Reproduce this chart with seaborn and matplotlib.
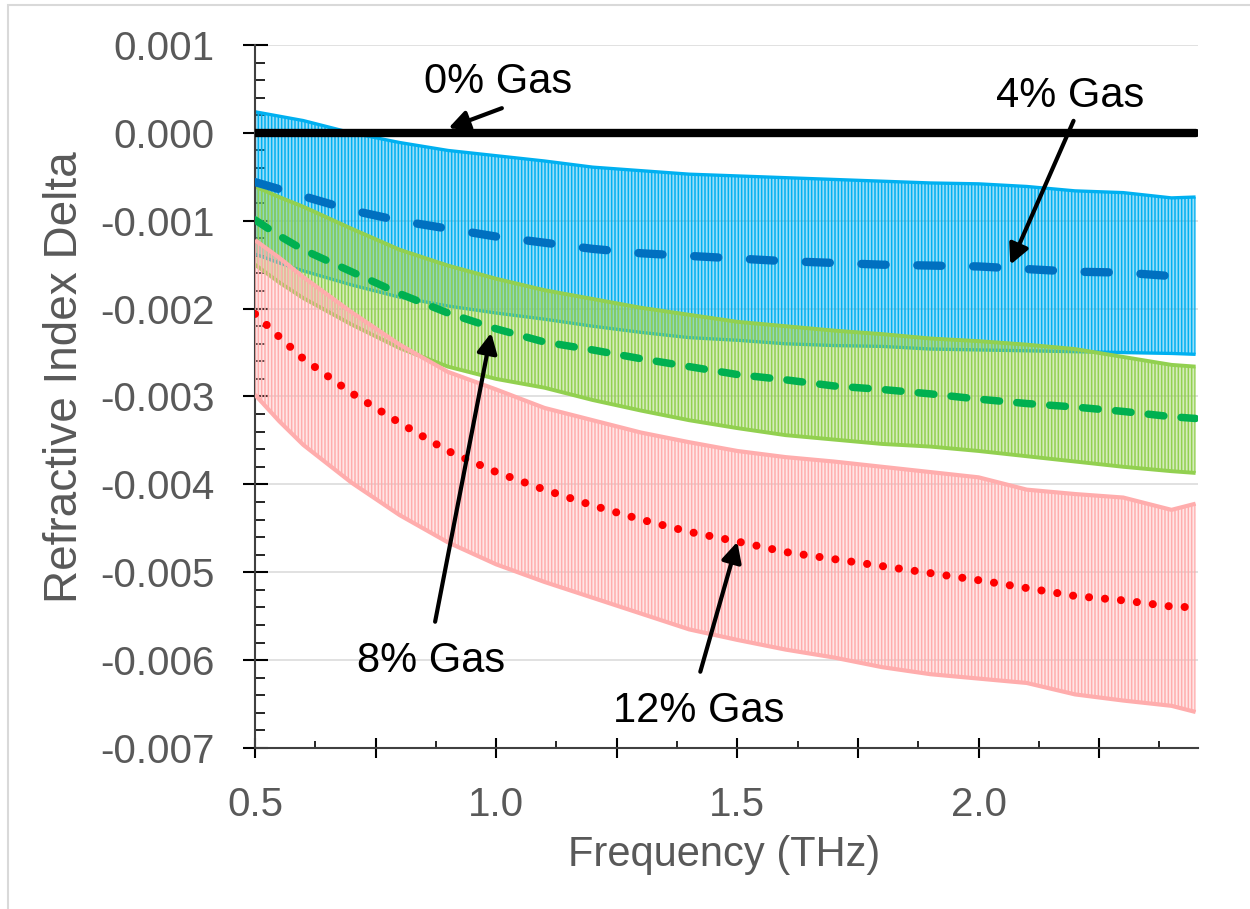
import matplotlib
matplotlib.use("Agg")
import matplotlib.pyplot as plt
import matplotlib.colors as mcolors
from matplotlib.ticker import MultipleLocator, FuncFormatter, FormatStrFormatter
from matplotlib.patches import Rectangle
import seaborn as sns

# ---------------- data ----------------
freq = [0.50, 0.55, 0.60, 0.70, 0.80, 0.90, 1.00, 1.10, 1.20, 1.30, 1.40,
        1.50, 1.60, 1.70, 1.80, 1.90, 2.00, 2.10, 2.20, 2.30, 2.40, 2.45]

gas0_mean = [0.0, 0.0, 0.0, 0.0, 0.0, 0.0, 0.0, 0.0, 0.0, 0.0, 0.0,
             0.0, 0.0, 0.0, 0.0, 0.0, 0.0, 0.0, 0.0, 0.0, 0.0, 0.0]

gas4_mean = [-0.00056, -0.00064, -0.00072, -0.00088, -0.00100, -0.00109, -0.00118,
             -0.00125, -0.00132, -0.00137, -0.00140, -0.00143, -0.00146, -0.00148,
             -0.00150, -0.00151, -0.00152, -0.00155, -0.00158, -0.00159, -0.00163, -0.00164]
gas4_upper = [0.00024, 0.00019, 0.00014, 0.00000, -0.00011, -0.00020, -0.00026,
              -0.00032, -0.00039, -0.00043, -0.00047, -0.00049, -0.00051, -0.00053,
              -0.00055, -0.00057, -0.00058, -0.00061, -0.00066, -0.00068, -0.00074, -0.00073]
gas4_lower = [-0.00138, -0.00148, -0.00157, -0.00173, -0.00187, -0.00197, -0.00205,
              -0.00212, -0.00220, -0.00227, -0.00233, -0.00236, -0.00240, -0.00242,
              -0.00243, -0.00246, -0.00247, -0.00248, -0.00249, -0.00250, -0.00251, -0.00252]

gas8_mean = [-0.00099, -0.00117, -0.00133, -0.00158, -0.00183, -0.00205, -0.00223,
             -0.00238, -0.00247, -0.00257, -0.00266, -0.00275, -0.00281, -0.00288,
             -0.00292, -0.00297, -0.00303, -0.00308, -0.00312, -0.00317, -0.00323, -0.00325]
gas8_upper = [-0.00061, -0.00073, -0.00084, -0.00109, -0.00133, -0.00151, -0.00166,
              -0.00179, -0.00189, -0.00199, -0.00207, -0.00215, -0.00220, -0.00225,
              -0.00229, -0.00234, -0.00237, -0.00241, -0.00246, -0.00255, -0.00264, -0.00266]
gas8_lower = [-0.00150, -0.00170, -0.00188, -0.00218, -0.00245, -0.00266, -0.00280,
              -0.00290, -0.00304, -0.00316, -0.00327, -0.00336, -0.00344, -0.00349,
              -0.00354, -0.00357, -0.00362, -0.00368, -0.00374, -0.00380, -0.00385, -0.00387]

gas12_mean = [-0.00206, -0.00232, -0.00257, -0.00296, -0.00330, -0.00362, -0.00386,
              -0.00406, -0.00424, -0.00440, -0.00454, -0.00465, -0.00477, -0.00485,
              -0.00493, -0.00501, -0.00509, -0.00518, -0.00527, -0.00532, -0.00539, -0.00540]
gas12_upper = [-0.00122, -0.00142, -0.00164, -0.00204, -0.00241, -0.00272, -0.00292,
               -0.00313, -0.00327, -0.00341, -0.00352, -0.00362, -0.00369, -0.00374,
               -0.00380, -0.00386, -0.00392, -0.00406, -0.00411, -0.00415, -0.00429, -0.00422]
gas12_lower = [-0.00298, -0.00328, -0.00355, -0.00398, -0.00435, -0.00466, -0.00491,
               -0.00511, -0.00529, -0.00547, -0.00565, -0.00577, -0.00588, -0.00597,
               -0.00608, -0.00616, -0.00621, -0.00626, -0.00639, -0.00646, -0.00652, -0.00659]

labels = ["0% Gas", "4% Gas", "8% Gas", "12% Gas"]
x_tick_labels = ["0.5", "1.0", "1.5", "2.0"]

# ---------------- style ----------------
plt.rcParams['font.family'] = ['Liberation Sans', 'DejaVu Sans']
plt.rcParams['axes.unicode_minus'] = False
plt.rcParams['hatch.linewidth'] = 1.1

fig = plt.figure(figsize=(12.5, 9.09), dpi=100, facecolor='white')
ax = fig.add_axes([0.204, 0.17712, 0.7544, 0.77338])

def tint(c, a):
    r, g, b, _ = mcolors.to_rgba(c)
    return (r, g, b, a)

def seaborn_line(y, color, lw, style='-', z=5, cap='round'):
    sns.lineplot(x=freq, y=y, color=color, ax=ax)
    ln = ax.get_lines()[-1]
    ln.set_color(color)
    ln.set_linewidth(lw)
    ln.set_linestyle(style)
    ln.set_dash_capstyle(cap)
    ln.set_solid_capstyle(cap)
    ln.set_zorder(z)
    return ln

# drawn in series order: 4% first, then 8%, then 12% on top
bands = [
    (gas4_lower, gas4_upper, '#00B0F0', 2.4, 1, 0.4),
    (gas8_lower, gas8_upper, '#92D050', 2.8, 2, 0.38),
    (gas12_lower, gas12_upper, '#FFADAD', 3.0, 3, 0.3),
]
for lo, hi, col, elw, z, a in bands:
    ax.fill_between(freq, lo, hi, facecolor=tint(col, a), edgecolor=col,
                    hatch='|' * 5, linewidth=0, zorder=z)
    seaborn_line(hi, col, elw, '-', z + 0.5, 'butt')
    seaborn_line(lo, col, elw, '-', z + 0.5, 'butt')

# mean lines
seaborn_line(gas12_mean, '#FF0000', 5.8, (0, (0.01, 1.98)), 6)
seaborn_line(gas8_mean, '#00B050', 5.4, (0, (2.1, 2.3)), 6)
seaborn_line(gas4_mean, '#0070C0', 6.0, (0, (2.9, 3.8)), 6)
seaborn_line(gas0_mean, 'black', 6.0, '-', 7)

# ---------------- axes ----------------
ax.set_xlim(0.5, 2.455)
ax.set_ylim(-0.007, 0.001)
ax.xaxis.set_major_locator(MultipleLocator(0.25))
ax.xaxis.set_minor_locator(MultipleLocator(0.125))
ax.yaxis.set_major_locator(MultipleLocator(0.001))
ax.yaxis.set_minor_locator(MultipleLocator(0.0002))
ax.yaxis.set_major_formatter(FormatStrFormatter('%.3f'))

def xfmt(v, pos):
    s = f"{v:.1f}"
    return s if s in x_tick_labels and abs(v * 2 - round(v * 2)) < 1e-6 else ""
ax.xaxis.set_major_formatter(FuncFormatter(xfmt))

ax.tick_params(axis='both', which='major', direction='inout', width=1.5,
               color='black', labelsize=29, labelcolor='#595959', pad=20)
ax.tick_params(axis='y', which='major', length=18)
ax.tick_params(axis='x', which='major', length=14.4)
ax.tick_params(axis='y', which='minor', direction='in', length=7.2, width=1.2, color='black')
ax.tick_params(axis='x', which='minor', direction='in', length=5, width=1.2, color='black')

for s in ['top', 'right']:
    ax.spines[s].set_visible(False)
for s in ['left', 'bottom']:
    ax.spines[s].set_color('#404040')
    ax.spines[s].set_linewidth(1.5)

ax.yaxis.grid(True, which='major', color='#D9D9D9', linewidth=1.1, zorder=0)
ax.xaxis.grid(False)
ax.set_axisbelow(True)

ax.set_xlabel("Frequency (THz)", fontsize=30, color='#595959', va='center')
ax.xaxis.set_label_coords(0.497, -0.152)
ax.set_ylabel("Refractive Index Delta", fontsize=33, color='#595959', va='center')
ax.yaxis.set_label_coords(-0.202, 0.528)

# ---------------- annotations ----------------
ann = [
    (labels[0], (1.004, 0.000458), (1.0118, 0.000281), (0.901, 0.0000535)),
    (labels[1], (2.189, 0.000296), (2.197, 0.000137), (2.066, -0.0015)),
    (labels[2], (0.866, -0.00614), (0.8734, -0.005563), (0.9896, -0.002275)),
    (labels[3], (1.419, -0.006708), (1.4232, -0.006132), (1.500, -0.004653)),
]
for txt, tpos, tail, head in ann:
    ax.text(tpos[0], tpos[1], txt, ha='center', va='baseline', fontsize=30,
            color='black', zorder=9)
    ax.annotate('', xy=head, xytext=tail,
                arrowprops=dict(arrowstyle='-|>,head_length=0.6,head_width=0.3',
                                color='black', lw=3, shrinkA=0, shrinkB=0,
                                mutation_scale=20),
                zorder=9)

# outer chart frame (light grey)
fig.add_artist(Rectangle((8 / 1250, -0.1), 1.2, 1.1 - 5 / 909, transform=fig.transFigure,
                         fill=False, edgecolor='#D9D9D9', linewidth=1.5))

fig.savefig("out.png", dpi=100, facecolor='white')
